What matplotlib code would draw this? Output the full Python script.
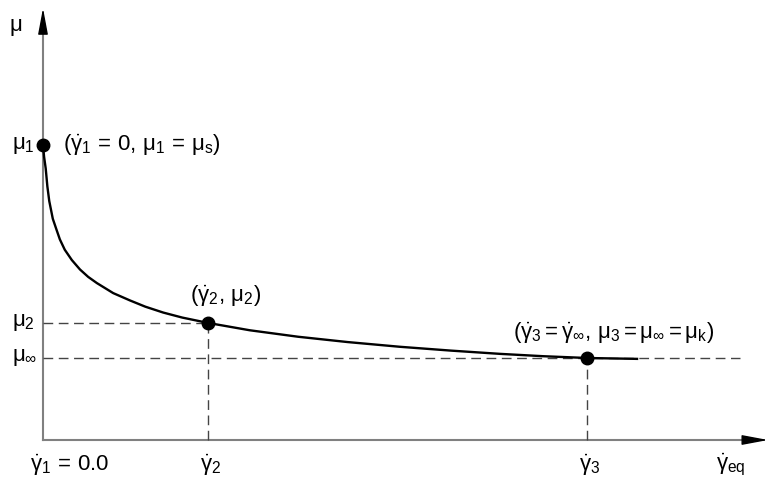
import matplotlib.pyplot as plt

plt.rcParams['font.family'] = ['Liberation Sans', 'DejaVu Sans']
plt.rcParams['mathtext.fontset'] = 'custom'
plt.rcParams['mathtext.rm'] = 'Liberation Sans'
plt.rcParams['mathtext.it'] = 'Liberation Sans'
plt.rcParams['mathtext.bf'] = 'Liberation Sans:bold'
plt.rcParams['mathtext.fallback'] = 'stixsans'

# shear rate scaled so that gamma_3 = 1, friction scaled so that mu_s = 1
curve_gamma = [0.0, 0.002, 0.005, 0.008, 0.0115, 0.018, 0.025, 0.031, 0.040,
               0.053, 0.068, 0.083, 0.099, 0.129, 0.160, 0.188, 0.221, 0.256,
               0.303, 0.38, 0.469, 0.56, 0.656, 0.75, 0.840, 0.92, 1.0, 1.092]
curve_mu = [1.0, 0.96, 0.92, 0.86, 0.81, 0.75, 0.712, 0.68, 0.645,
            0.610, 0.578, 0.553, 0.532, 0.498, 0.473, 0.452, 0.432, 0.415,
            0.397, 0.372, 0.350, 0.332, 0.316, 0.303, 0.292, 0.284, 0.278, 0.275]

point_gamma = [0.0, 0.303, 1.0]
point_mu = [1.0, 0.397, 0.278]
mu_inf = 0.278

mu_labels = [r'$\mu_1$', r'$\mu_2$', r'$\mu_\infty$']
gamma_labels = [r'$\dot{\gamma}_1\,=\,0.0$', r'$\dot{\gamma}_2$', r'$\dot{\gamma}_3$']
point_labels = [r'$(\dot{\gamma}_1\,=\,0,\,\mu_1\,=\,\mu_s)$',
                r'$(\dot{\gamma}_2,\,\mu_2)$',
                r'$(\dot{\gamma}_3=\dot{\gamma}_\infty,\,\mu_3=\mu_\infty=\mu_k)$']

fig = plt.figure(figsize=(7.71, 4.93), dpi=100)
ax = fig.add_axes([0, 0, 1, 1])
ax.set_xlim(-43 / 544, 728 / 544)
ax.set_ylim(-53 / 295, 440 / 295)
ax.axis('off')

x_end, y_end = 1.333, 1.464
fs = 16
dash = dict(color='#444444', lw=1.0, dashes=(7, 4))

# axes with arrow heads
ax.plot([0, x_end - 0.03], [0, 0], color='#808080', lw=1.5, zorder=1)
ax.plot([0, 0], [0, y_end - 0.05], color='#808080', lw=1.5, zorder=1)
head = dict(arrowstyle='-|>,head_length=1.6,head_width=0.3', color='black',
            lw=1, shrinkA=0, shrinkB=0)
ax.annotate('', xy=(x_end, 0), xytext=(x_end - 0.042, 0), arrowprops=head)
ax.annotate('', xy=(0, y_end), xytext=(0, y_end - 0.075), arrowprops=head)

# reference lines
ax.plot([0, point_gamma[1]], [point_mu[1], point_mu[1]], **dash)
ax.plot([point_gamma[1], point_gamma[1]], [0, point_mu[1]], **dash)
ax.plot([0, 1.281], [mu_inf, mu_inf], **dash)
ax.plot([point_gamma[2], point_gamma[2]], [0, point_mu[2]], **dash)

# curve and points
ax.plot(curve_gamma, curve_mu, color='black', lw=1.7, zorder=3,
        solid_joinstyle='round')
ax.plot(point_gamma, point_mu, 'o', color='black', ms=9, zorder=4)

# labels on the mu axis
for m, lab in zip(point_mu, mu_labels):
    ax.text(-0.057, m, lab, fontsize=fs, ha='left', va='center')
ax.text(-0.050, 1.397, r'$\mu$', fontsize=fs, ha='center', va='center')

# labels on the gamma axis
ax.text(-0.024, -0.085, gamma_labels[0], fontsize=fs, ha='left', va='center')
ax.text(point_gamma[1] + 0.006, -0.085, gamma_labels[1], fontsize=fs,
        ha='center', va='center')
ax.text(point_gamma[2] + 0.005, -0.085, gamma_labels[2], fontsize=fs,
        ha='center', va='center')
ax.text(1.265, -0.085, r'$\dot{\gamma}_{eq}$', fontsize=fs, ha='center', va='center')

# point annotations
ax.text(0.037, point_mu[0], point_labels[0], fontsize=fs, ha='left', va='center')
ax.text(0.335, 0.488, point_labels[1], fontsize=fs, ha='center', va='center')
ax.text(1.048, 0.363, point_labels[2], fontsize=fs, ha='center', va='center')

fig.savefig('out.png', dpi=100)
